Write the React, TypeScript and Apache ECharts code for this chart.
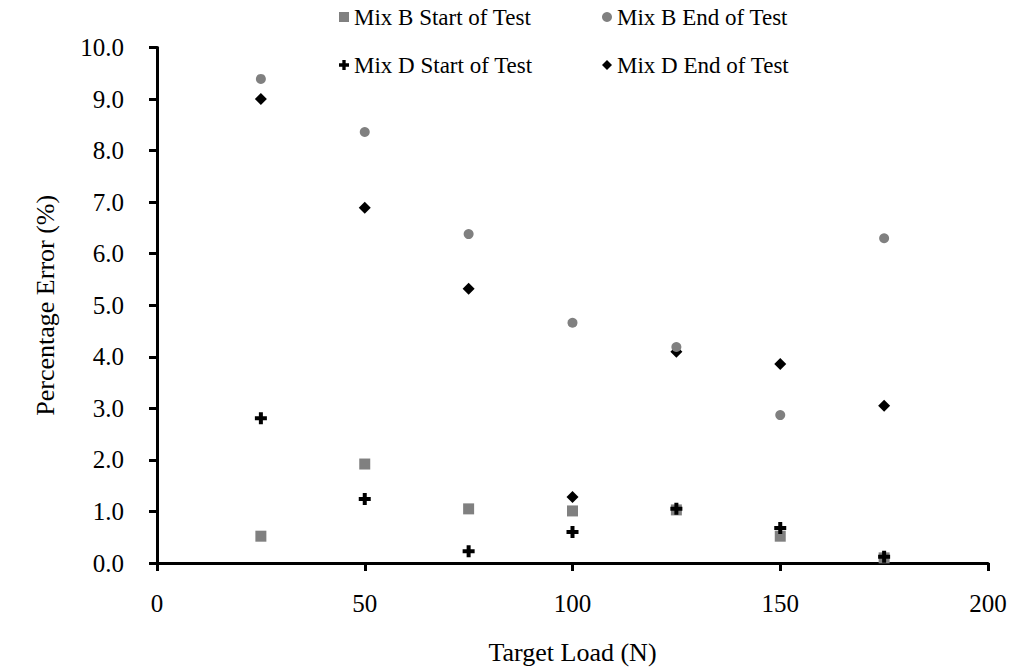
import React, { useEffect, useRef } from "react";
import * as echarts from "echarts";

const targetLoads = [25, 50, 75, 100, 125, 150, 175];
const mixBStart = [0.52, 1.92, 1.05, 1.01, 1.03, 0.52, 0.1];
const mixBEnd = [9.39, 8.36, 6.38, 4.66, 4.19, 2.87, 6.3];
const mixDStart = [2.81, 1.24, 0.23, 0.6, 1.05, 0.68, 0.12];
const mixDEnd = [9.0, 6.89, 5.32, 1.28, 4.1, 3.86, 3.05];
const seriesNames = [
  "Mix B Start of Test",
  "Mix B End of Test",
  "Mix D Start of Test",
  "Mix D End of Test",
];

const FONT = '"Liberation Serif", serif';
const CROSS = "path://M4,0H8V4H12V8H8V12H4V8H0V4H4Z";

export default function App() {
  const ref = useRef<HTMLDivElement>(null);
  useEffect(() => {
    if (!ref.current) return;
    const chart = echarts.init(ref.current, undefined, { renderer: "svg" });
    const pair = (vals: number[]) => targetLoads.map((x, i) => [x, vals[i]]);
    const legendBase = {
      itemWidth: 10,
      itemHeight: 10,
      padding: 0,
      textStyle: { fontFamily: FONT, fontSize: 23, color: "#000" },
      selectedMode: false,
    };
    chart.setOption({
      animation: false,
      textStyle: { fontFamily: FONT },
      grid: { left: 157, right: 24, top: 47.5, bottom: 109 },
      legend: [
        { ...legendBase, data: [seriesNames[0]], left: 339, top: 5.5 },
        { ...legendBase, data: [seriesNames[1]], left: 602, top: 5.5 },
        { ...legendBase, data: [seriesNames[2]], left: 339, top: 53.5 },
        { ...legendBase, data: [seriesNames[3]], left: 602, top: 53.5 },
      ],
      xAxis: {
        type: "value",
        min: 0,
        max: 200,
        interval: 50,
        name: "Target Load (N)",
        nameLocation: "middle",
        nameGap: 76,
        nameTextStyle: { fontFamily: FONT, fontSize: 26, color: "#000" },
        axisLine: { onZero: false, lineStyle: { color: "#000", width: 3 } },
        axisTick: { show: true, length: 8, lineStyle: { color: "#000", width: 3 } },
        axisLabel: { margin: 28, fontFamily: FONT, fontSize: 25, color: "#000" },
        splitLine: { show: false },
      },
      yAxis: {
        type: "value",
        min: 0,
        max: 10,
        interval: 1,
        name: "Percentage Error (%)",
        nameLocation: "middle",
        nameGap: 99,
        nameTextStyle: { fontFamily: FONT, fontSize: 26, color: "#000" },
        axisLine: { show: true, onZero: false, lineStyle: { color: "#000", width: 3 } },
        axisTick: { show: true, length: 8, lineStyle: { color: "#000", width: 3 } },
        axisLabel: {
          margin: 33,
          fontFamily: FONT,
          fontSize: 25,
          color: "#000",
          formatter: (v: number) => v.toFixed(1),
        },
        splitLine: { show: false },
      },
      series: [
        {
          name: seriesNames[0],
          type: "scatter",
          symbol: "rect",
          symbolSize: 11,
          itemStyle: { color: "#808080", opacity: 1 },
          data: pair(mixBStart),
          z: 1,
        },
        {
          name: seriesNames[1],
          type: "scatter",
          symbol: "circle",
          symbolSize: 10,
          itemStyle: { color: "#808080", opacity: 1 },
          data: pair(mixBEnd),
          z: 3,
        },
        {
          name: seriesNames[2],
          type: "scatter",
          symbol: CROSS,
          symbolSize: 12,
          itemStyle: { color: "#000", opacity: 1 },
          data: pair(mixDStart),
          z: 4,
        },
        {
          name: seriesNames[3],
          type: "scatter",
          symbol: "diamond",
          symbolSize: [12, 12],
          itemStyle: { color: "#000", opacity: 1 },
          data: pair(mixDEnd),
          z: 2,
        },
      ],
    });
    return () => chart.dispose();
  }, []);
  return (
    <div
      ref={ref}
      style={{ position: "absolute", left: 0, top: 0, width: 1012, height: 672 }}
    />
  );
}
